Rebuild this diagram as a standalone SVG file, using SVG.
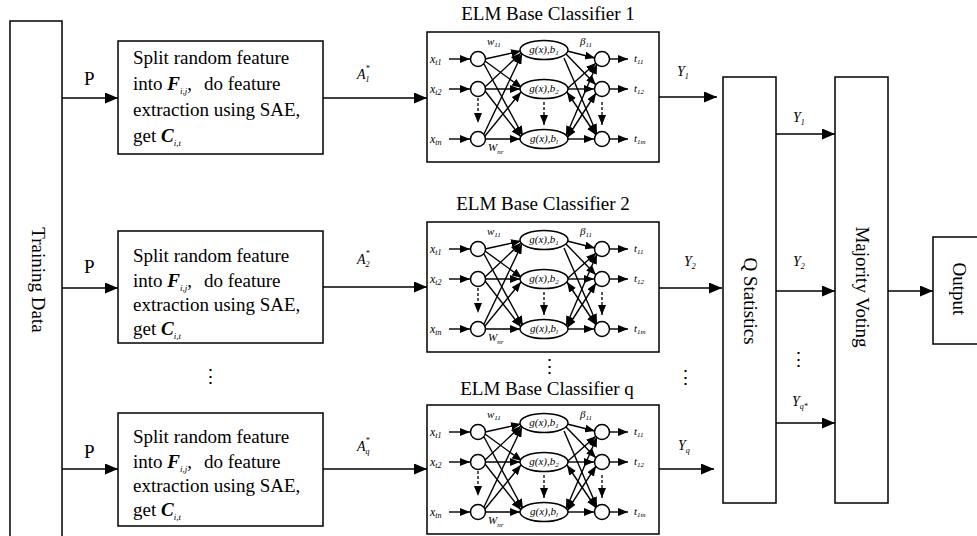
<svg xmlns="http://www.w3.org/2000/svg" width="977" height="536" viewBox="0 0 977 536">
<style>
.t{font-family:"Liberation Serif","Times New Roman",serif;font-size:19px;fill:#000}
.mi{font-family:"Liberation Serif","Times New Roman",serif;font-style:italic;fill:#000}
.bi{font-family:"Liberation Serif","Times New Roman",serif;font-style:italic;font-weight:bold;fill:#000}
.box{fill:#fff;stroke:#000;stroke-width:1.5}
.ln{fill:none;stroke:#000;stroke-width:1.3}
.nl{fill:none;stroke:#000;stroke-width:1.4}
.nd{fill:#fff;stroke:#000;stroke-width:1.5}
.ds{fill:none;stroke:#000;stroke-width:1.3;stroke-dasharray:3 2}
.s9{font-size:9px}
.s7{font-size:7px}
.s8{font-size:8px}
.s12{font-size:12px}
.s14{font-size:14px}
.s11{font-size:11px}
</style>
<defs>
<marker id="ah" markerWidth="13" markerHeight="11" refX="13" refY="5.5" orient="auto" markerUnits="userSpaceOnUse"><path d="M0,0 L13,5.5 L0,11 z" fill="#000"/></marker>
<marker id="as" markerWidth="10" markerHeight="8" refX="10" refY="4" orient="auto-start-reverse" markerUnits="userSpaceOnUse"><path d="M0,0 L10,4 L0,8 z" fill="#000"/></marker>
</defs>
<rect width="977" height="536" fill="#fff"/>

<!-- Training data -->
<g id="training">
<path class="box" d="M10,537 V21 H62 V537" fill="none"/>
<text class="t" text-anchor="middle" transform="translate(38,280) rotate(90)" y="6.5">Training Data</text>
</g>

<!-- Split boxes -->
<g id="split1">
<rect class="box" x="118" y="41" width="205" height="113"/>
<text class="t" x="133" y="64">Split random feature</text>
<text class="t" x="133" y="90">into <tspan class="bi">F</tspan><tspan class="mi s9" dy="4">i,j</tspan><tspan dy="-4">,</tspan><tspan dx="12">do feature</tspan></text>
<text class="t" x="133" y="116">extraction using SAE,</text>
<text class="t" x="133" y="142">get <tspan class="bi">C</tspan><tspan class="mi s9" dy="4">i,t</tspan></text>
</g>
<g id="split2">
<rect class="box" x="118" y="231" width="205" height="112"/>
<text class="t" x="133" y="262">Split random feature</text>
<text class="t" x="133" y="287">into <tspan class="bi">F</tspan><tspan class="mi s9" dy="4">i,j</tspan><tspan dy="-4">,</tspan><tspan dx="12">do feature</tspan></text>
<text class="t" x="133" y="311">extraction using SAE,</text>
<text class="t" x="133" y="335">get <tspan class="bi">C</tspan><tspan class="mi s9" dy="4">i,t</tspan></text>
</g>
<g id="split3">
<rect class="box" x="118" y="413" width="205" height="113"/>
<text class="t" x="133" y="443">Split random feature</text>
<text class="t" x="133" y="468">into <tspan class="bi">F</tspan><tspan class="mi s9" dy="4">i,j</tspan><tspan dy="-4">,</tspan><tspan dx="12">do feature</tspan></text>
<text class="t" x="133" y="492">extraction using SAE,</text>
<text class="t" x="133" y="516">get <tspan class="bi">C</tspan><tspan class="mi s9" dy="4">i,t</tspan></text>
</g>
<text class="t" x="210" y="383" text-anchor="middle" font-family="DejaVu Serif" font-size="15">⋮</text>

<!-- ELM classifiers -->
<g id="elm1" transform="translate(0,32)">
<text class="t" x="548" y="-12" text-anchor="middle">ELM Base Classifier 1</text>
<rect class="box" x="427" y="0" width="232" height="130"/>
<g class="nl">
<path d="M449,27 H470" marker-end="url(#as)"/><path d="M449,57 H470" marker-end="url(#as)"/><path d="M449,107 H470" marker-end="url(#as)"/>
<path d="M485,27 L521,19" marker-end="url(#as)"/><path d="M485,29 L522,56" marker-end="url(#as)"/><path d="M484,32 L523,104" marker-end="url(#as)"/>
<path d="M485,55 L521,21" marker-end="url(#as)"/><path d="M486,57 L520,57" marker-end="url(#as)"/><path d="M485,59 L521,105" marker-end="url(#as)"/>
<path d="M484,102 L522,22" marker-end="url(#as)"/><path d="M485,104 L521,60" marker-end="url(#as)"/><path d="M486,107 L520,107" marker-end="url(#as)"/>
<path d="M567,19 L595,26" marker-end="url(#as)"/><path d="M566,22 L596,53" marker-end="url(#as)"/><path d="M564,26 L597,102" marker-end="url(#as)"/>
<path d="M568,56 L596,31" marker-end="url(#as)"/><path d="M568,57 L594,57" marker-end="url(#as)"/><path d="M567,60 L596,103" marker-start="url(#as)" marker-end="url(#as)"/>
<path d="M566,104 L597,32" marker-start="url(#as)" marker-end="url(#as)"/><path d="M567,106 L596,61" marker-start="url(#as)" marker-end="url(#as)"/><path d="M568,107 L594,107" marker-end="url(#as)"/>
<path d="M610,27 H628" marker-end="url(#as)"/><path d="M610,57 H628" marker-end="url(#as)"/><path d="M610,107 H628" marker-end="url(#as)"/>
</g>
<g class="ds"><path d="M478,66 V91" marker-end="url(#as)"/><path d="M544,70 V93" marker-end="url(#as)"/><path d="M602,70 V93" marker-end="url(#as)"/></g>
<circle class="nd" cx="478" cy="27" r="7.5"/><circle class="nd" cx="478" cy="57" r="7.5"/><circle class="nd" cx="478" cy="107" r="7.5"/>
<ellipse class="nd" cx="544" cy="18" rx="24" ry="9.5"/><ellipse class="nd" cx="544" cy="57" rx="24" ry="9.5"/><ellipse class="nd" cx="544" cy="107" rx="24" ry="9.5"/>
<circle class="nd" cx="602" cy="27" r="7.5"/><circle class="nd" cx="602" cy="57" r="7.5"/><circle class="nd" cx="602" cy="107" r="7.5"/>
<text class="mi s11" x="544" y="21" text-anchor="middle">g(x),b<tspan class="s7" dy="2">1</tspan></text>
<text class="mi s11" x="544" y="60" text-anchor="middle">g(x),b<tspan class="s7" dy="2">2</tspan></text>
<text class="mi s11" x="544" y="110" text-anchor="middle">g(x),b<tspan class="s7" dy="2">l</tspan></text>
<text class="mi s12" x="430" y="31">x<tspan class="s8" dy="2">t1</tspan></text>
<text class="mi s12" x="430" y="61">x<tspan class="s8" dy="2">t2</tspan></text>
<text class="mi s12" x="430" y="111">x<tspan class="s8" dy="2">tn</tspan></text>
<text class="mi s11" x="634" y="30">t<tspan class="s7" dy="2">11</tspan></text>
<text class="mi s11" x="634" y="60">t<tspan class="s7" dy="2">12</tspan></text>
<text class="mi s11" x="634" y="110">t<tspan class="s7" dy="2">1m</tspan></text>
<text class="mi s11" x="487" y="13">w<tspan class="s7" dy="2">11</tspan></text>
<text class="mi s11" x="488" y="119">W<tspan class="s7" dy="3">nr</tspan></text>
<text class="mi s11" x="580" y="13">β<tspan class="s7" dy="2">11</tspan></text>
</g>

<g id="elm2" transform="translate(0,222)">
<text class="t" x="543" y="-12" text-anchor="middle">ELM Base Classifier 2</text>
<rect class="box" x="427" y="0" width="232" height="130"/>
<g class="nl">
<path d="M449,27 H470" marker-end="url(#as)"/><path d="M449,57 H470" marker-end="url(#as)"/><path d="M449,107 H470" marker-end="url(#as)"/>
<path d="M485,27 L521,19" marker-end="url(#as)"/><path d="M485,29 L522,56" marker-end="url(#as)"/><path d="M484,32 L523,104" marker-end="url(#as)"/>
<path d="M485,55 L521,21" marker-end="url(#as)"/><path d="M486,57 L520,57" marker-end="url(#as)"/><path d="M485,59 L521,105" marker-end="url(#as)"/>
<path d="M484,102 L522,22" marker-end="url(#as)"/><path d="M485,104 L521,60" marker-end="url(#as)"/><path d="M486,107 L520,107" marker-end="url(#as)"/>
<path d="M567,19 L595,26" marker-end="url(#as)"/><path d="M566,22 L596,53" marker-end="url(#as)"/><path d="M564,26 L597,102" marker-end="url(#as)"/>
<path d="M568,56 L596,31" marker-end="url(#as)"/><path d="M568,57 L594,57" marker-end="url(#as)"/><path d="M567,60 L596,103" marker-start="url(#as)" marker-end="url(#as)"/>
<path d="M566,104 L597,32" marker-start="url(#as)" marker-end="url(#as)"/><path d="M567,106 L596,61" marker-start="url(#as)" marker-end="url(#as)"/><path d="M568,107 L594,107" marker-end="url(#as)"/>
<path d="M610,27 H628" marker-end="url(#as)"/><path d="M610,57 H628" marker-end="url(#as)"/><path d="M610,107 H628" marker-end="url(#as)"/>
</g>
<g class="ds"><path d="M478,66 V91" marker-end="url(#as)"/><path d="M544,70 V93" marker-end="url(#as)"/><path d="M602,70 V93" marker-end="url(#as)"/></g>
<circle class="nd" cx="478" cy="27" r="7.5"/><circle class="nd" cx="478" cy="57" r="7.5"/><circle class="nd" cx="478" cy="107" r="7.5"/>
<ellipse class="nd" cx="544" cy="18" rx="24" ry="9.5"/><ellipse class="nd" cx="544" cy="57" rx="24" ry="9.5"/><ellipse class="nd" cx="544" cy="107" rx="24" ry="9.5"/>
<circle class="nd" cx="602" cy="27" r="7.5"/><circle class="nd" cx="602" cy="57" r="7.5"/><circle class="nd" cx="602" cy="107" r="7.5"/>
<text class="mi s11" x="544" y="21" text-anchor="middle">g(x),b<tspan class="s7" dy="2">1</tspan></text>
<text class="mi s11" x="544" y="60" text-anchor="middle">g(x),b<tspan class="s7" dy="2">2</tspan></text>
<text class="mi s11" x="544" y="110" text-anchor="middle">g(x),b<tspan class="s7" dy="2">l</tspan></text>
<text class="mi s12" x="430" y="31">x<tspan class="s8" dy="2">t1</tspan></text>
<text class="mi s12" x="430" y="61">x<tspan class="s8" dy="2">t2</tspan></text>
<text class="mi s12" x="430" y="111">x<tspan class="s8" dy="2">tn</tspan></text>
<text class="mi s11" x="634" y="30">t<tspan class="s7" dy="2">11</tspan></text>
<text class="mi s11" x="634" y="60">t<tspan class="s7" dy="2">12</tspan></text>
<text class="mi s11" x="634" y="110">t<tspan class="s7" dy="2">1m</tspan></text>
<text class="mi s11" x="487" y="13">w<tspan class="s7" dy="2">11</tspan></text>
<text class="mi s11" x="488" y="119">W<tspan class="s7" dy="3">nr</tspan></text>
<text class="mi s11" x="580" y="13">β<tspan class="s7" dy="2">11</tspan></text>
</g>

<text class="t" x="549" y="373" text-anchor="middle" font-family="DejaVu Serif" font-size="15">⋮</text>

<g id="elmq" transform="translate(0,405)">
<text class="t" x="547" y="-10" text-anchor="middle">ELM Base Classifier q</text>
<rect class="box" x="427" y="0" width="232" height="129"/>
<g class="nl">
<path d="M449,27 H470" marker-end="url(#as)"/><path d="M449,57 H470" marker-end="url(#as)"/><path d="M449,107 H470" marker-end="url(#as)"/>
<path d="M485,27 L521,19" marker-end="url(#as)"/><path d="M485,29 L522,56" marker-end="url(#as)"/><path d="M484,32 L523,104" marker-end="url(#as)"/>
<path d="M485,55 L521,21" marker-end="url(#as)"/><path d="M486,57 L520,57" marker-end="url(#as)"/><path d="M485,59 L521,105" marker-end="url(#as)"/>
<path d="M484,102 L522,22" marker-end="url(#as)"/><path d="M485,104 L521,60" marker-end="url(#as)"/><path d="M486,107 L520,107" marker-end="url(#as)"/>
<path d="M567,19 L595,26" marker-end="url(#as)"/><path d="M566,22 L596,53" marker-end="url(#as)"/><path d="M564,26 L597,102" marker-end="url(#as)"/>
<path d="M568,56 L596,31" marker-end="url(#as)"/><path d="M568,57 L594,57" marker-end="url(#as)"/><path d="M567,60 L596,103" marker-start="url(#as)" marker-end="url(#as)"/>
<path d="M566,104 L597,32" marker-start="url(#as)" marker-end="url(#as)"/><path d="M567,106 L596,61" marker-start="url(#as)" marker-end="url(#as)"/><path d="M568,107 L594,107" marker-end="url(#as)"/>
<path d="M610,27 H628" marker-end="url(#as)"/><path d="M610,57 H628" marker-end="url(#as)"/><path d="M610,107 H628" marker-end="url(#as)"/>
</g>
<g class="ds"><path d="M478,66 V91" marker-end="url(#as)"/><path d="M544,70 V93" marker-end="url(#as)"/><path d="M602,70 V93" marker-end="url(#as)"/></g>
<circle class="nd" cx="478" cy="27" r="7.5"/><circle class="nd" cx="478" cy="57" r="7.5"/><circle class="nd" cx="478" cy="107" r="7.5"/>
<ellipse class="nd" cx="544" cy="18" rx="24" ry="9.5"/><ellipse class="nd" cx="544" cy="57" rx="24" ry="9.5"/><ellipse class="nd" cx="544" cy="107" rx="24" ry="9.5"/>
<circle class="nd" cx="602" cy="27" r="7.5"/><circle class="nd" cx="602" cy="57" r="7.5"/><circle class="nd" cx="602" cy="107" r="7.5"/>
<text class="mi s11" x="544" y="21" text-anchor="middle">g(x),b<tspan class="s7" dy="2">1</tspan></text>
<text class="mi s11" x="544" y="60" text-anchor="middle">g(x),b<tspan class="s7" dy="2">2</tspan></text>
<text class="mi s11" x="544" y="110" text-anchor="middle">g(x),b<tspan class="s7" dy="2">l</tspan></text>
<text class="mi s12" x="430" y="31">x<tspan class="s8" dy="2">t1</tspan></text>
<text class="mi s12" x="430" y="61">x<tspan class="s8" dy="2">t2</tspan></text>
<text class="mi s12" x="430" y="111">x<tspan class="s8" dy="2">tn</tspan></text>
<text class="mi s11" x="634" y="30">t<tspan class="s7" dy="2">11</tspan></text>
<text class="mi s11" x="634" y="60">t<tspan class="s7" dy="2">12</tspan></text>
<text class="mi s11" x="634" y="110">t<tspan class="s7" dy="2">1m</tspan></text>
<text class="mi s11" x="487" y="13">w<tspan class="s7" dy="2">11</tspan></text>
<text class="mi s11" x="488" y="119">W<tspan class="s7" dy="3">nr</tspan></text>
<text class="mi s11" x="580" y="13">β<tspan class="s7" dy="2">11</tspan></text>
</g>

<!-- Q statistics, Majority voting, Output -->
<g id="qstat">
<rect class="box" x="723" y="77" width="53" height="426"/>
<text class="t" text-anchor="middle" transform="translate(750,301) rotate(90)" y="6.5">Q Statistics</text>
</g>
<g id="majority">
<rect class="box" x="835" y="77" width="53" height="426"/>
<text class="t" text-anchor="middle" transform="translate(862,287) rotate(90)" y="6.5">Majority Voting</text>
</g>
<g id="output">
<path class="box" d="M980,237 H933 V344 H980"/>
<text class="t" text-anchor="middle" transform="translate(959,289) rotate(90)" y="6.5">Output</text>
</g>

<!-- connectors -->
<g id="connectors" class="ln">
<path d="M62,98 H118" marker-end="url(#ah)"/>
<path d="M62,288 H118" marker-end="url(#ah)"/>
<path d="M62,469 H118" marker-end="url(#ah)"/>
<path d="M323,98 H427" marker-end="url(#ah)"/>
<path d="M323,287 H427" marker-end="url(#ah)"/>
<path d="M323,469 H427" marker-end="url(#ah)"/>
<path d="M659,97 H717" marker-end="url(#ah)"/>
<path d="M659,288 H722" marker-end="url(#ah)"/>
<path d="M659,469 H714" marker-end="url(#ah)"/>
<path d="M776,134 H835" marker-end="url(#ah)"/>
<path d="M776,291 H835" marker-end="url(#ah)"/>
<path d="M776,423 H835" marker-end="url(#ah)"/>
<path d="M888,291 H933" marker-end="url(#ah)"/>
</g>

<!-- connector labels -->
<g id="labels">
<text class="t" x="84" y="85" font-size="17">P</text>
<text class="t" x="84" y="273" font-size="17">P</text>
<text class="t" x="84" y="458" font-size="17">P</text>
<text class="mi s14" x="357" y="79">A<tspan class="s8" dy="-8">*</tspan><tspan class="s8" dx="-4" dy="11">1</tspan></text>
<text class="mi s14" x="357" y="264">A<tspan class="s8" dy="-8">*</tspan><tspan class="s8" dx="-4" dy="11">2</tspan></text>
<text class="mi s14" x="357" y="451">A<tspan class="s8" dy="-8">*</tspan><tspan class="s8" dx="-4" dy="11">q</tspan></text>
<text class="mi s14" x="677" y="76">Y<tspan class="s8" dy="3">1</tspan></text>
<text class="mi s14" x="684" y="266">Y<tspan class="s8" dy="3">2</tspan></text>
<text class="mi s14" x="678" y="450">Y<tspan class="s8" dy="3">q</tspan></text>
<text class="mi s14" x="793" y="122">Y<tspan class="s8" dy="3">1</tspan></text>
<text class="mi s14" x="793" y="266">Y<tspan class="s8" dy="3">2</tspan></text>
<text class="mi s14" x="792" y="406">Y<tspan class="s8" dy="3">q*</tspan></text>
<text class="t" x="685" y="384" text-anchor="middle" font-family="DejaVu Serif" font-size="15">⋮</text>
<text class="t" x="798" y="366" text-anchor="middle" font-family="DejaVu Serif" font-size="15">⋮</text>
</g>
</svg>
